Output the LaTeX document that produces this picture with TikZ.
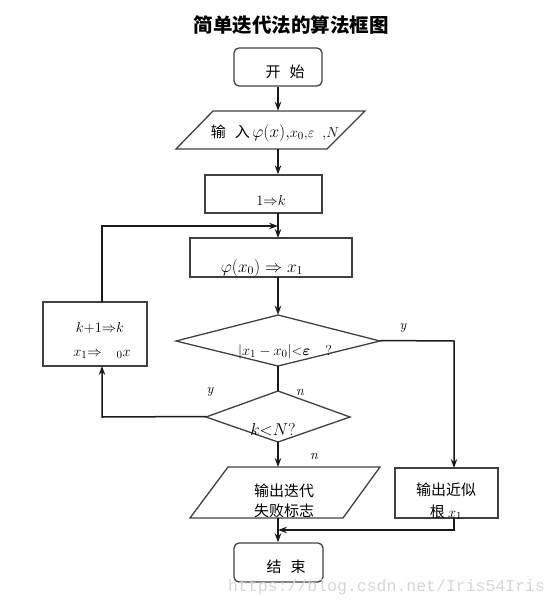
\documentclass[tikz,border=0pt]{standalone}
\usepackage{fontspec}
\usepackage{amsmath}
\newfontfamily\cjk{Noto Sans CJK SC}
\newfontfamily\wmfont{Liberation Mono}
\usetikzlibrary{arrows.meta}
\definecolor{boxc}{HTML}{404040}
\definecolor{linec}{HTML}{1A1A1A}
\definecolor{wmc}{HTML}{D6D6D6}
\begin{document}
\begin{tikzpicture}[x=1pt,y=-1pt,
  font=\fontsize{15}{18}\selectfont,
  boxshape/.style={draw=boxc, line width=1.3pt, inner sep=0pt},
  hidden/.style={inner sep=0pt},
  txt/.style={inner sep=0pt, text=black},
  conn/.style={draw=linec, line width=1.5pt},
  arr/.style={conn, -{Stealth[length=9pt,width=6.5pt]}},
  lab/.style={inner sep=0pt, font=\fontsize{14}{16}\selectfont\itshape}]
\useasboundingbox (0,0) rectangle (559,608);

% title
\node[txt, font=\cjk\bfseries\fontsize{19.5}{22}\selectfont] (title) at (291,25) {简单迭代法的算法框图};

% start
\node[boxshape, rounded corners=5pt, minimum width=88pt, minimum height=38pt] (start) at (278,67) {};
\node[txt, font=\cjk\fontsize{15}{18}\selectfont] (starttxt) at (285,72) {开\hspace{0.6em}始};

% input parallelogram
\node[hidden, minimum width=152pt, minimum height=38pt] (inp) at (270.5,130) {};
\draw[boxc, line width=1.3pt] (213,111) -- (365,111) -- (327,149) -- (176,149) -- cycle;
\node[txt] (inptxt) at (275,133) {{\cjk\fontsize{15}{18}\selectfont 输\hspace{0.6em}入}\,{\fontsize{17}{19}\selectfont$\varphi(x),$}$x_0{,}\varepsilon\;\;{,}N$};

% 1 => k
\node[boxshape, minimum width=117pt, minimum height=38pt] (init) at (263.5,194) {};
\node[txt] (inittxt) at (271,200) {$1{\Rightarrow}k$};

% phi(x0) => x1
\node[boxshape, minimum width=162pt, minimum height=39pt] (iter) at (271,257.5) {};
\node[txt, font=\fontsize{17}{19}\selectfont] (itertxt) at (262,268) {$\varphi(x_0)\Rightarrow x_1$};

% diamond 1
\node[hidden, minimum width=204pt, minimum height=51pt] (d1) at (278,340.5) {};
\draw[boxc, line width=1.3pt] (278,315) -- (380,341) -- (278,366) -- (176,341) -- cycle;
\node[txt] (d1txt) at (285,352) {$|x_1-x_0|{<}\boldsymbol{\varepsilon}\quad ?$};

% diamond 2
\node[hidden, minimum width=144pt, minimum height=51pt] (d2) at (278,416.5) {};
\draw[boxc, line width=1.3pt] (278,391) -- (350,417) -- (278,442) -- (206,417) -- cycle;
\node[txt, font=\fontsize{16}{18}\selectfont] (d2txt) at (273,430) {$k{<}N?$};

% k+1 => k box
\node[boxshape, line width=1.8pt, minimum width=104pt, minimum height=64pt] (upd) at (95,334) {};
\node[txt] (updtxt1) at (100,328) {$k{+}1{\Rightarrow}k$};
\node[txt] (updtxt2) at (102,354) {$x_1{\Rightarrow}\quad{}_0x$};

% output failure parallelogram
\node[hidden, minimum width=190pt, minimum height=51pt] (fail) at (285,492.5) {};
\draw[boxc, line width=1.3pt] (228,467) -- (380,467) -- (343,518) -- (190,518) -- cycle;
\node[txt, font=\cjk\fontsize{15}{18}\selectfont, align=center] (failtxt) at (284,501) {输出迭代\\[2pt]失败标志};

% output root
\node[boxshape, minimum width=103pt, minimum height=50pt] (root) at (446.5,493) {};
\node[txt, font=\cjk\fontsize{15}{18}\selectfont] (roottxt1) at (446,490) {输出近似};
\node[txt, font=\cjk\fontsize{15}{18}\selectfont] (roottxt2) at (446,512) {根\ $x_1$};

% end
\node[boxshape, rounded corners=5pt, minimum width=89pt, minimum height=39pt] (end) at (278.5,562.5) {};
\node[txt, font=\cjk\fontsize{15}{18}\selectfont] (endtxt) at (286,567) {结\hspace{0.6em}束};

% connectors
\draw[arr] (start.south) -- (start.south |- inp.north);
\draw[arr] (278,149) -- (init.north -| 278,0);
\draw[arr] (278,213) -- (278,238);
\draw[arr] (278,277) -- (d1.north);
\draw[conn] (d1.south) -- (d2.north);
\draw[arr] (d2.south) -- (278,467);
\draw[arr] (278,518) -- (end.north -| 278,0);
% loop back
\coordinate (loopc) at (102,226);
\draw[arr] (102,302) -- (loopc) -- (278,226);
\draw[arr] (d2.west) -- (102,417) -- (102,366);
% yes branch
\coordinate (yc) at (454,341);
\draw[arr] (d1.east) -- (yc) -- (454,468);
\coordinate (rc) at (454,530);
\draw[arr] (454,518) -- (rc) -- (278,530);

% labels
\node[lab] (ly1) at (403,328) {y};
\node[lab] (ly2) at (210,392) {y};
\node[lab] (ln1) at (300,392) {n};
\node[lab] (ln2) at (314,456) {n};

% watermark
\node[inner sep=0pt, text=wmc, font=\wmfont\fontsize{16.5}{18}\selectfont, anchor=west] (wm) at (228,587) {https://blog.csdn.net/Iris54Iris};
\end{tikzpicture}
\end{document}
